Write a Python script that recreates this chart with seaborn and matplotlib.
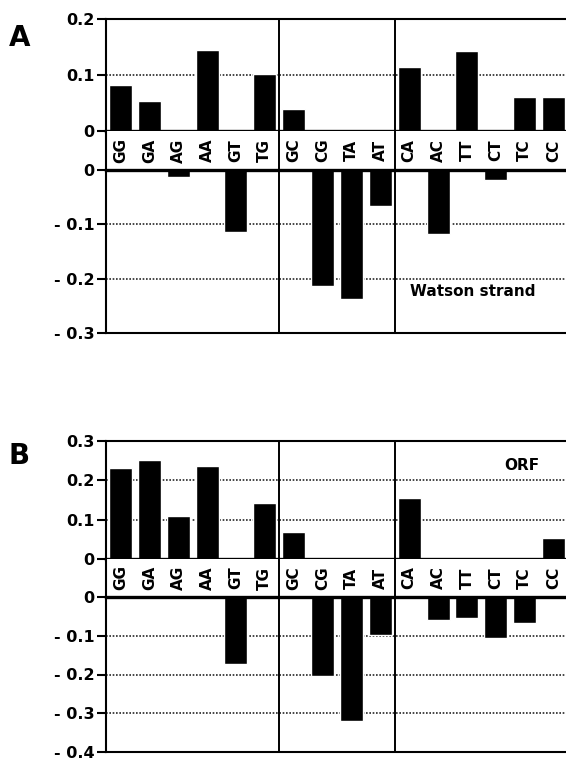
import matplotlib
matplotlib.use("Agg")
import matplotlib.pyplot as plt
import seaborn as sns
import pandas as pd

# ---------------- data ----------------
dinucleotides = ["GG", "GA", "AG", "AA", "GT", "TG", "GC", "CG", "TA", "AT",
                 "CA", "AC", "TT", "CT", "TC", "CC"]
group_bounds = [5.5, 9.5]

watson_up = [0.083, 0.054, 0.0, 0.145, 0.0, 0.102, 0.039, 0.0, 0.0, 0.0,
             0.114, 0.0, 0.143, 0.0, 0.061, 0.061]
watson_down = [0.0, 0.0, -0.012, 0.0, -0.114, 0.0, 0.0, -0.213, -0.238, -0.067,
               0.0, -0.118, 0.0, -0.019, 0.0, 0.0]
orf_up = [0.232, 0.251, 0.110, 0.236, 0.0, 0.143, 0.068, 0.0, 0.0, 0.0,
          0.155, 0.0, 0.0, 0.0, 0.0, 0.053]
orf_down = [0.0, 0.0, 0.0, 0.0, -0.174, 0.0, 0.0, -0.205, -0.319, -0.098,
            0.0, -0.060, -0.053, -0.107, -0.067, 0.0]

watson_up_ticks = [0, 0.1, 0.2]
watson_up_labels = ["0", "0.1", "0.2"]
watson_down_ticks = [-0.3, -0.2, -0.1, 0]
watson_down_labels = ["- 0.3", "- 0.2", "- 0.1", "0"]
orf_up_ticks = [0, 0.1, 0.2, 0.3]
orf_up_labels = ["0", "0.1", "0.2", "0.3"]
orf_down_ticks = [-0.4, -0.3, -0.2, -0.1, 0]
orf_down_labels = ["- 0.4", "- 0.3", "- 0.2", "- 0.1", "0"]

# ---------------- style ----------------
sns.set_theme(style="white")
plt.rcParams["font.family"] = ["DejaVu Sans"]
plt.rcParams["font.weight"] = "bold"
plt.rcParams["text.color"] = "black"
plt.rcParams["axes.labelcolor"] = "black"
plt.rcParams["xtick.color"] = "black"
plt.rcParams["ytick.color"] = "black"
plt.rcParams["axes.edgecolor"] = "black"

W, H = 566, 761
fig = plt.figure(figsize=(W / 100, H / 100), dpi=100)
fig.patch.set_facecolor("white")

LEFT, RIGHT = 106, 568


def box(top, bottom):
    return [LEFT / W, 1 - bottom / H, (RIGHT - LEFT) / W, (bottom - top) / H]


def style_value_axes(ax, ylim, ticks, labels, thick_side):
    ax.set_xlim(-0.5, len(dinucleotides) - 0.5)
    ax.set_ylim(*ylim)
    ax.set_xticks([])
    ax.set_xlabel("")
    ax.set_ylabel("")
    ax.set_yticks(ticks)
    ax.set_yticklabels(labels, fontsize=11.5, fontweight="bold", color="black")
    ax.tick_params(axis="y", direction="out", length=6.5, width=1.5,
                   color="black", pad=2, left=True)
    for s in ["left", "top", "bottom"]:
        ax.spines[s].set_visible(True)
        ax.spines[s].set_color("black")
        ax.spines[s].set_linewidth(1.5)
    ax.spines["right"].set_visible(False)
    ax.spines[thick_side].set_linewidth(2.4)
    for t in ticks:
        if ylim[0] < t < ylim[1]:
            ax.axhline(t, color="0.15", lw=1.2, ls=(0, (1, 1)), zorder=0)
    for b in group_bounds:
        ax.axvline(b, color="black", lw=1.4, zorder=3)
    ax.set_facecolor("white")


def label_row(ax):
    ax.set_xlim(-0.5, len(dinucleotides) - 0.5)
    ax.set_ylim(0, 1)
    ax.set_xticks([])
    ax.set_yticks([])
    for s in ["top", "bottom", "right"]:
        ax.spines[s].set_visible(False)
    ax.spines["left"].set_visible(True)
    ax.spines["left"].set_color("black")
    ax.spines["left"].set_linewidth(1.5)
    for i, name in enumerate(dinucleotides):
        ax.text(i, 0.5, name, rotation=90, ha="center", va="center",
                fontsize=11, fontweight="heavy", color="black")
    for b in group_bounds:
        ax.axvline(b, color="black", lw=1.4)
    ax.set_facecolor("white")


def panel(top_px, mid_top, mid_bot, bot_px, up, down, uplim, downlim,
          upt, upl, dnt, dnl):
    ax_up = fig.add_axes(box(top_px, mid_top))
    ax_lab = fig.add_axes(box(mid_top, mid_bot))
    ax_dn = fig.add_axes(box(mid_bot, bot_px))
    df_up = pd.DataFrame({"dinuc": dinucleotides, "value": up})
    df_dn = pd.DataFrame({"dinuc": dinucleotides, "value": down})
    sns.barplot(data=df_up, x="dinuc", y="value", color="black", saturation=1,
                width=0.8, ax=ax_up, errorbar=None, zorder=2)
    sns.barplot(data=df_dn, x="dinuc", y="value", color="black", saturation=1,
                width=0.8, ax=ax_dn, errorbar=None, zorder=2)
    style_value_axes(ax_up, uplim, upt, upl, "bottom")
    style_value_axes(ax_dn, downlim, dnt, dnl, "top")
    label_row(ax_lab)
    return ax_up, ax_lab, ax_dn


a_up, a_lab, a_dn = panel(19, 131, 170, 333, watson_up, watson_down,
                          (0, 0.2), (-0.3, 0),
                          watson_up_ticks, watson_up_labels,
                          watson_down_ticks, watson_down_labels)
b_up, b_lab, b_dn = panel(441, 559, 597, 752, orf_up, orf_down,
                          (0, 0.3), (-0.4, 0),
                          orf_up_ticks, orf_up_labels,
                          orf_down_ticks, orf_down_labels)

a_dn.text(12.2, -0.223, "Watson strand", ha="center", va="center",
          fontsize=11, fontweight="bold", color="black")
b_up.text(13.9, 0.237, "ORF", ha="center", va="center",
          fontsize=11, fontweight="bold", color="black")

fig.text(20 / W, 1 - 38 / H, "A", ha="center", va="center",
         fontsize=20, fontweight="bold", color="black")
fig.text(19 / W, 1 - 456 / H, "B", ha="center", va="center",
         fontsize=20, fontweight="bold", color="black")

fig.savefig("out.png", dpi=100, facecolor="white")
